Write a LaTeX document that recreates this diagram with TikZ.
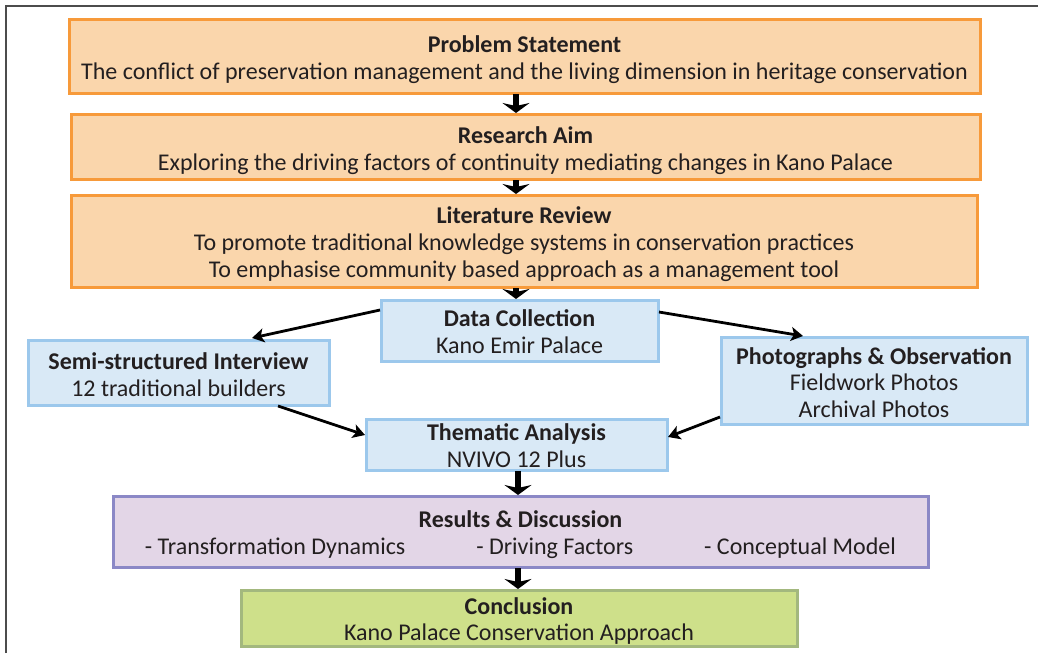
\documentclass[tikz,border=0pt]{standalone}
\usepackage{fontspec}
\setmainfont{Carlito}
\usetikzlibrary{arrows.meta}
\definecolor{orfill}{HTML}{FAD6AC}
\definecolor{ordraw}{HTML}{F79A3A}
\definecolor{blfill}{HTML}{D9E9F6}
\definecolor{bldraw}{HTML}{9CC8EC}
\definecolor{pufill}{HTML}{E3D6E7}
\definecolor{pudraw}{HTML}{8B88C6}
\definecolor{grfill}{HTML}{CEE08A}
\definecolor{grdraw}{HTML}{A3B87E}
\definecolor{txt}{HTML}{231F20}
\tikzset{
 x=1pt,y=-1pt,
 flow/.style={inner sep=0pt,outer sep=0pt,anchor=center},
 label text/.style={inner sep=0pt,outer sep=0pt,align=center,anchor=center,text=txt,font=\fontsize{24}{26.8}\selectfont},
 orbox/.style={flow,draw=ordraw,fill=orfill,line width=3pt},
 blbox/.style={flow,draw=bldraw,fill=blfill,line width=3pt},
 pubox/.style={flow,draw=pudraw,fill=pufill,line width=3pt},
 grbox/.style={flow,draw=grdraw,fill=grfill,line width=3pt},
 thick arrow/.style={line width=6.5pt,-{Stealth[length=10pt,width=27pt,inset=3pt]}},
 thin arrow/.style={line width=2.8pt,-{Stealth[length=12pt,width=14pt,inset=3pt]}},
}
% style, x0, y0, x1, y1, name, text shift, text
\newcommand{\boxat}[8]{\node[#1,minimum width=#4-#2,minimum height=#5-#3] (#6) at ({(#2+#4)/2},{(#3+#5)/2}) {};
 \node[label text,yshift=-#7pt] (#6t) at (#6.center) {#8};}
\begin{document}
\begin{tikzpicture}
\useasboundingbox (0,0) rectangle (1038,653);
\draw[draw=black!70,line width=1.6pt] (6,653) -- (6,6) -- (1038,6);
\boxat{orbox}{69}{19}{980}{93}{ps}{4}{\textbf{Problem Statement}\\The conflict of preservation management and the living dimension in heritage conservation}
\boxat{orbox}{71}{114}{980}{179}{ra}{4}{\textbf{Research Aim}\\Exploring the driving factors of continuity mediating changes in Kano Palace}
\boxat{orbox}{71}{195}{977}{287}{lr}{3}{\textbf{Literature Review}\\To promote traditional knowledge systems in conservation practices\\To emphasise community based approach as a management tool}
\boxat{blbox}{381}{300}{658}{361}{dc}{1.5}{\textbf{Data Collection}\\Kano Emir Palace}
\boxat{blbox}{28}{340}{329}{405}{si}{2}{\textbf{Semi-structured Interview}\\12 traditional builders}
\boxat{blbox}{721}{337}{1027}{424}{po}{2}{\textbf{Photographs \& Observation}\\Fieldwork Photos\\Archival Photos}
\boxat{blbox}{366}{419}{667}{470}{ta}{1.5}{\textbf{Thematic Analysis}\\NVIVO 12 Plus}
\boxat{pubox}{113}{496}{928}{567}{rd}{3.5}{\textbf{Results \& Discussion}\\[0pt]- Transformation Dynamics\hspace{71pt}- Driving Factors\hspace{71pt}- Conceptual Model}
\boxat{grbox}{241}{590}{797}{646}{co}{3}{\textbf{Conclusion}\\Kano Palace Conservation Approach}
\coordinate (a1) at (516,94); \coordinate (a2) at (516,113);
\coordinate (b1) at (516,180); \coordinate (b2) at (516,194);
\coordinate (c1) at (516,288); \coordinate (c2) at (516,299);
\coordinate (e1) at (518,471); \coordinate (e2) at (518,495);
\coordinate (f1) at (518,568); \coordinate (f2) at (518,589);
\coordinate (g1) at (380,310); \coordinate (g2) at (252,338);
\coordinate (h1) at (659,312); \coordinate (h2) at (803,336);
\coordinate (i1) at (278,406); \coordinate (i2) at (365,435);
\coordinate (j1) at (720,417); \coordinate (j2) at (668,437);
\draw[thick arrow] (a1) -- (a2);
\draw[thick arrow] (b1) -- (b2);
\draw[thick arrow] (c1) -- (c2);
\draw[thick arrow] (e1) -- (e2);
\draw[thick arrow] (f1) -- (f2);
\draw[thin arrow] (g1) -- (g2);
\draw[thin arrow] (h1) -- (h2);
\draw[thin arrow] (i1) -- (i2);
\draw[thin arrow] (j1) -- (j2);
\end{tikzpicture}
\end{document}
